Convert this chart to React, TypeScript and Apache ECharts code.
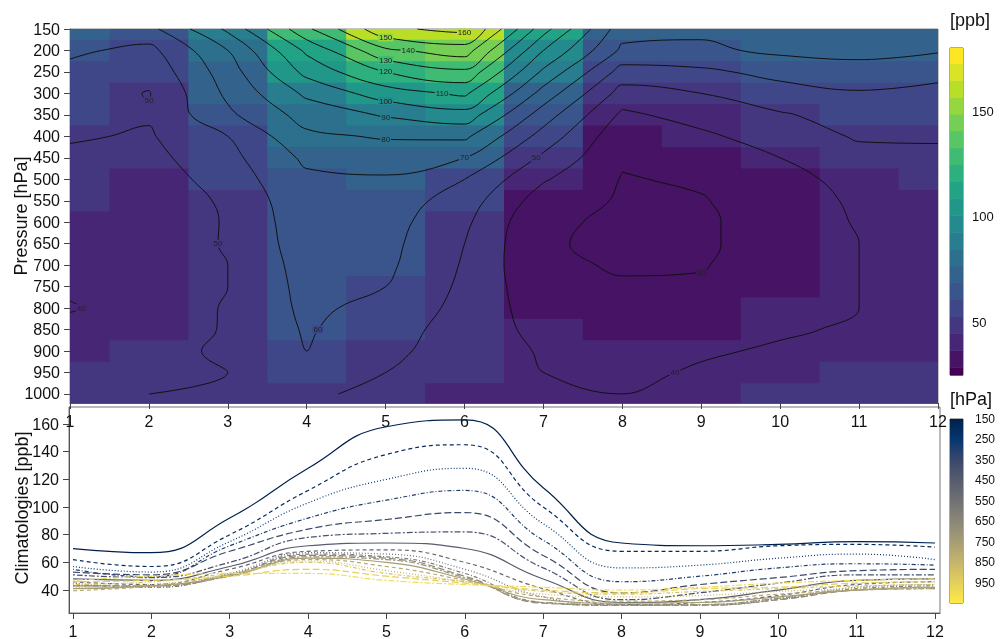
import React, { useEffect, useRef } from "react";
import * as echarts from "echarts";

// months on the x axis, pressure levels on the y axis
const MONTHS = [1, 2, 3, 4, 5, 6, 7, 8, 9, 10, 11, 12];
const LEVELS = [150, 200, 250, 300, 350, 400, 450, 500, 550, 600, 650, 700, 750, 800, 850, 900, 950, 1000];

// ozone climatology [ppb], one row per pressure level, Jan..Dec
const OZONE_150 = [70, 67, 92, 128, 158, 163, 114, 74, 72, 73, 75, 74];
const OZONE_200 = [62, 57, 80, 112, 138, 145, 100, 68, 68, 72, 73, 71];
const OZONE_250 = [57, 53, 75, 103, 120, 128, 88, 56, 58, 63, 66, 62];
const OZONE_300 = [55, 49.5, 72, 92, 105, 112, 76, 46, 50, 56, 59, 58];
const OZONE_350 = [53, 51, 68, 84, 91, 96, 65, 38, 44, 49, 54, 55];
const OZONE_400 = [51, 49, 60, 78, 81, 82, 56, 33, 38, 45, 51, 51];
const OZONE_450 = [48, 47, 57, 72, 74, 70, 48, 31, 33, 40, 47, 48];
const OZONE_500 = [46, 44, 55, 68, 69, 60, 41, 29.5, 31, 36, 44, 46];
const OZONE_550 = [45, 42, 52, 67, 66, 55, 35, 29, 29.5, 34, 42, 44];
const OZONE_600 = [44, 42, 51, 66, 64, 52, 31, 29, 29, 33, 41, 43];
const OZONE_650 = [43, 43, 51, 65, 63, 50, 30.5, 29, 29, 33, 40, 42];
const OZONE_700 = [43, 43, 50, 64, 62, 49, 31, 29.5, 29.5, 34, 40, 41];
const OZONE_750 = [41, 43, 50, 63, 60, 48, 33, 30.5, 31, 35, 40, 42];
const OZONE_800 = [39.5, 43, 51, 62, 57, 47, 35, 32, 33, 37, 40, 41];
const OZONE_850 = [42, 44, 51, 61, 54, 46, 37, 35, 36, 39, 41, 42];
const OZONE_900 = [44, 46, 52, 60, 52, 46, 39, 37, 39, 41, 43, 44];
const OZONE_950 = [46, 47, 50, 55, 50, 45, 40, 38, 41, 42, 45, 46];
const OZONE_1000 = [47, 50, 52, 52, 47, 44, 42, 40, 42, 45, 47, 48];

const OZONE = [
  OZONE_150, OZONE_200, OZONE_250, OZONE_300, OZONE_350, OZONE_400,
  OZONE_450, OZONE_500, OZONE_550, OZONE_600, OZONE_650, OZONE_700,
  OZONE_750, OZONE_800, OZONE_850, OZONE_900, OZONE_950, OZONE_1000,
];

const CONTOUR_LEVELS = [30, 40, 50, 60, 70, 80, 90, 100, 110, 120, 130, 140, 150, 160];
const PRESSURE_TICKS = LEVELS;
const CLIM_TICKS = [40, 60, 80, 100, 120, 140, 160];
const PPB_TICKS = [50, 100, 150];
const HPA_TICKS = [150, 250, 350, 450, 550, 650, 750, 850, 950];

const P_MAX = 1021;
const OZ_MIN = 25;
const OZ_MAX = 180;
const BAND_START = 20.7;
const BAND_STEP = 8;
const N_BANDS = 20;
const HPA_CB_MAX = 1048;

const VIRIDIS = ["#440154", "#482475", "#414487", "#355f8d", "#2a788e", "#21918c", "#22a884", "#44bf70", "#7ad151", "#bddf26", "#fde725"];
const CIVIDIS = ["#00204c", "#06366f", "#39486b", "#575c6e", "#707173", "#8a8779", "#a69d75", "#c4b56c", "#e4cf5b", "#ffea46"];
const DASHES: any[] = ["solid", [4, 3], [1, 2], [1, 2, 4, 2], [7, 3], [2, 2, 6, 2]];
const FONT = "'Liberation Sans', Arial, sans-serif";

const hex = (h: string) => [1, 3, 5].map((k) => parseInt(h.slice(k, k + 2), 16));
const ramp = (stops: string[], t: number) => {
  t = Math.min(1, Math.max(0, t));
  const s = t * (stops.length - 1);
  const i = Math.min(stops.length - 2, Math.floor(s));
  const f = s - i;
  const a = hex(stops[i]);
  const b = hex(stops[i + 1]);
  const c = a.map((x, k) => Math.round(x + (b[k] - x) * f));
  return `rgb(${c[0]},${c[1]},${c[2]})`;
};
const bandIndex = (v: number) =>
  Math.max(0, Math.min(N_BANDS - 1, Math.floor((v - BAND_START) / BAND_STEP)));
const bandColor = (v: number) => ramp(VIRIDIS, bandIndex(v) / (N_BANDS - 1));
const levelColor = (p: number) => ramp(CIVIDIS, (p - 150) / (HPA_CB_MAX - 150));

type Pt = [number, number];

// marching squares over the data grid, segments chained into polylines
function contourLines(level: number): Pt[][] {
  const nx = MONTHS.length;
  const ny = LEVELS.length;
  const val = (i: number, j: number) => OZONE[j][i];
  const pts: Record<string, Pt> = {};
  const segs: [string, string][] = [];
  const edge = (key: string, i1: number, j1: number, i2: number, j2: number) => {
    if (!pts[key]) {
      const v1 = val(i1, j1);
      const v2 = val(i2, j2);
      const f = (level - v1) / (v2 - v1);
      pts[key] = [
        MONTHS[i1] + f * (MONTHS[i2] - MONTHS[i1]),
        LEVELS[j1] + f * (LEVELS[j2] - LEVELS[j1]),
      ];
    }
    return key;
  };
  for (let j = 0; j < ny - 1; j++) {
    for (let i = 0; i < nx - 1; i++) {
      const a = val(i, j) >= level;
      const b = val(i + 1, j) >= level;
      const c = val(i + 1, j + 1) >= level;
      const d = val(i, j + 1) >= level;
      const t = a !== b ? edge(`h${i},${j}`, i, j, i + 1, j) : null;
      const r = b !== c ? edge(`v${i + 1},${j}`, i + 1, j, i + 1, j + 1) : null;
      const bo = d !== c ? edge(`h${i},${j + 1}`, i, j + 1, i + 1, j + 1) : null;
      const l = a !== d ? edge(`v${i},${j}`, i, j, i, j + 1) : null;
      const cross = [t, r, bo, l].filter(Boolean) as string[];
      if (cross.length === 2) segs.push([cross[0], cross[1]]);
      else if (cross.length === 4) {
        const centre = (val(i, j) + val(i + 1, j) + val(i + 1, j + 1) + val(i, j + 1)) / 4 >= level;
        if (a !== centre) segs.push([t!, l!]);
        if (b !== centre) segs.push([t!, r!]);
        if (c !== centre) segs.push([r!, bo!]);
        if (d !== centre) segs.push([bo!, l!]);
      }
    }
  }
  const byEdge: Record<string, number[]> = {};
  segs.forEach((s, k) => s.forEach((e) => (byEdge[e] = byEdge[e] || []).push(k)));
  const used = segs.map(() => false);
  const lines: Pt[][] = [];
  const extend = (chain: string[]) => {
    for (;;) {
      const last = chain[chain.length - 1];
      const next = (byEdge[last] || []).find((n) => !used[n]);
      if (next === undefined) break;
      used[next] = true;
      const s = segs[next];
      chain.push(s[0] === last ? s[1] : s[0]);
    }
  };
  segs.forEach((s, k) => {
    if (used[k]) return;
    used[k] = true;
    const chain = [s[0], s[1]];
    extend(chain);
    chain.reverse();
    extend(chain);
    lines.push(chain.map((e) => pts[e]));
  });
  return lines;
}

const App = () => {
  const chartRef = useRef<HTMLDivElement>(null);

  useEffect(() => {
    if (!chartRef.current) return;
    const myChart = echarts.init(chartRef.current, null, { renderer: "svg" });

    const cells: number[][] = [];
    LEVELS.forEach((p, j) => MONTHS.forEach((m, i) => cells.push([m, p, OZONE[j][i]])));

    const contourSeries: any[] = [];
    const labels: any[] = [];
    CONTOUR_LEVELS.forEach((lv) => {
      contourLines(lv).forEach((line) => {
        contourSeries.push({
          type: "line",
          xAxisIndex: 0,
          yAxisIndex: 0,
          data: line,
          smooth: 0.4,
          showSymbol: false,
          silent: true,
          z: 3,
          lineStyle: { color: "#111", width: 1 },
        });
        if (line.length >= 3) {
          const mid = line[Math.floor(line.length / 2)];
          labels.push([mid[0], mid[1], lv]);
        }
      });
    });

    const axisText = { color: "#111", fontSize: 16, fontFamily: FONT, formatter: (v: number) => String(v) };
    const tick = (vals: number[], length = 6) => ({
      show: true,
      length,
      customValues: vals,
      lineStyle: { color: "#444" },
    });

    const lineSeries = LEVELS.map((p, k) => ({
      type: "line",
      xAxisIndex: 1,
      yAxisIndex: 1,
      data: MONTHS.map((m, i) => [m, OZONE[k][i]]),
      smooth: true,
      showSymbol: false,
      silent: true,
      lineStyle: { color: levelColor(p), width: 1.2, type: DASHES[k % DASHES.length] },
    }));

    const option = {
      animation: false,
      textStyle: { fontFamily: FONT },
      grid: [
        { left: 70, width: 868, top: 29, height: 374, show: true, borderColor: "#888", borderWidth: 1 },
        { left: 69, width: 871, top: 407, height: 206, show: true, borderColor: "#777", borderWidth: 1 },
        { left: 950, width: 13, top: 48, height: 327, show: true, borderColor: "#555", borderWidth: 1 },
        { left: 950, width: 13, top: 419, height: 184, show: true, borderColor: "#555", borderWidth: 1 },
      ],
      xAxis: [
        {
          gridIndex: 0, type: "value", min: 1, max: 12,
          axisLine: { show: true, lineStyle: { color: "#555" } },
          axisTick: tick(MONTHS),
          axisLabel: { ...axisText, customValues: MONTHS, margin: 10 },
          splitLine: { show: false },
        },
        {
          gridIndex: 1, type: "value", min: 0.949, max: 12.064,
          axisLine: { show: true, lineStyle: { color: "#555" } },
          axisTick: tick(MONTHS),
          axisLabel: { ...axisText, customValues: MONTHS, margin: 10 },
          splitLine: { show: false },
        },
        { gridIndex: 2, type: "value", min: 0, max: 1, show: false },
        { gridIndex: 3, type: "value", min: 0, max: 1, show: false },
      ],
      yAxis: [
        {
          gridIndex: 0, type: "value", inverse: true, min: 150, max: P_MAX,
          axisLine: { show: true, lineStyle: { color: "#555" } },
          axisTick: tick(PRESSURE_TICKS),
          axisLabel: { ...axisText, customValues: PRESSURE_TICKS, margin: 10 },
          splitLine: { show: false },
        },
        {
          gridIndex: 1, type: "value", min: 23.4, max: 172.3,
          axisLine: { show: true, lineStyle: { color: "#555" } },
          axisTick: tick(CLIM_TICKS),
          axisLabel: { ...axisText, customValues: CLIM_TICKS, margin: 10 },
          splitLine: { show: false },
        },
        {
          gridIndex: 2, type: "value", position: "right", min: OZ_MIN, max: OZ_MAX,
          axisLine: { show: false },
          axisTick: tick(PPB_TICKS, 6),
          axisLabel: { ...axisText, fontSize: 13, customValues: PPB_TICKS, margin: 9 },
          splitLine: { show: false },
        },
        {
          gridIndex: 3, type: "value", position: "right", inverse: true, min: 150, max: HPA_CB_MAX,
          axisLine: { show: false },
          axisTick: tick(HPA_TICKS, 6),
          axisLabel: { ...axisText, fontSize: 12, customValues: HPA_TICKS, margin: 12 },
          splitLine: { show: false },
        },
      ],
      graphic: [
        { type: "text", x: 21, y: 216, rotation: Math.PI / 2, style: { text: "Pressure [hPa]", fontSize: 18, fontFamily: FONT, fill: "#111", align: "center", verticalAlign: "middle" } },
        { type: "text", x: 22, y: 508, rotation: Math.PI / 2, style: { text: "Climatologies [ppb]", fontSize: 18, fontFamily: FONT, fill: "#111", align: "center", verticalAlign: "middle" } },
        { type: "text", x: 950, y: 20, style: { text: "[ppb]", fontSize: 18, fontFamily: FONT, fill: "#111", align: "left", verticalAlign: "middle" } },
        { type: "text", x: 950, y: 399, style: { text: "[hPa]", fontSize: 18, fontFamily: FONT, fill: "#111", align: "left", verticalAlign: "middle" } },
      ],
      series: [
        {
          type: "custom",
          xAxisIndex: 0,
          yAxisIndex: 0,
          data: cells,
          encode: { x: 0, y: 1 },
          clip: true,
          silent: true,
          z: 1,
          renderItem: (_: any, api: any) => {
            const m = api.value(0);
            const p = api.value(1);
            const v = api.value(2);
            const a = api.coord([Math.max(1, m - 0.5), Math.max(150, p - 25)]);
            const b = api.coord([Math.min(12, m + 0.5), Math.min(P_MAX, p + 25)]);
            return {
              type: "rect",
              shape: { x: Math.min(a[0], b[0]), y: Math.min(a[1], b[1]), width: Math.abs(b[0] - a[0]) + 1, height: Math.abs(b[1] - a[1]) + 1 },
              style: { fill: bandColor(v) },
            };
          },
        },
        ...contourSeries,
        {
          type: "custom",
          xAxisIndex: 0,
          yAxisIndex: 0,
          data: labels,
          encode: { x: 0, y: 1 },
          silent: true,
          z: 4,
          renderItem: (_: any, api: any) => {
            const pt = api.coord([api.value(0), api.value(1)]);
            const lv = api.value(2);
            return {
              type: "text",
              x: pt[0],
              y: pt[1],
              style: {
                text: String(lv),
                fontSize: 8,
                fontFamily: FONT,
                fill: "#222",
                align: "center",
                verticalAlign: "middle",
                backgroundColor: bandColor(lv),
                padding: [0, 1],
              },
            };
          },
        },
        ...lineSeries,
        {
          type: "custom",
          xAxisIndex: 2,
          yAxisIndex: 2,
          data: Array.from({ length: N_BANDS }, (_, i) => [i]),
          silent: true,
          renderItem: (_: any, api: any) => {
            const i = api.value(0);
            const lo = Math.max(OZ_MIN, BAND_START + i * BAND_STEP);
            const hi = Math.min(OZ_MAX, BAND_START + (i + 1) * BAND_STEP);
            const a = api.coord([0, lo]);
            const b = api.coord([1, hi]);
            return {
              type: "rect",
              shape: { x: a[0], y: Math.min(a[1], b[1]), width: b[0] - a[0], height: Math.abs(b[1] - a[1]) + 0.5 },
              style: { fill: ramp(VIRIDIS, i / (N_BANDS - 1)) },
            };
          },
        },
        {
          type: "custom",
          xAxisIndex: 3,
          yAxisIndex: 3,
          data: [[0]],
          silent: true,
          renderItem: (_: any, api: any) => {
            const a = api.coord([0, 150]);
            const b = api.coord([1, HPA_CB_MAX]);
            return {
              type: "rect",
              shape: { x: a[0], y: a[1], width: b[0] - a[0], height: b[1] - a[1] },
              style: {
                fill: new echarts.graphic.LinearGradient(0, 0, 0, 1,
                  CIVIDIS.map((c, k) => ({ offset: k / (CIVIDIS.length - 1), color: c }))),
              },
            };
          },
        },
      ],
    };

    myChart.setOption(option as any, true);

    return () => {
      myChart.dispose();
    };
  }, []);

  return (
    <div
      ref={chartRef}
      style={{ position: "fixed", left: 0, top: 0, width: 1000, height: 639 }}
    />
  );
};

export default App;
